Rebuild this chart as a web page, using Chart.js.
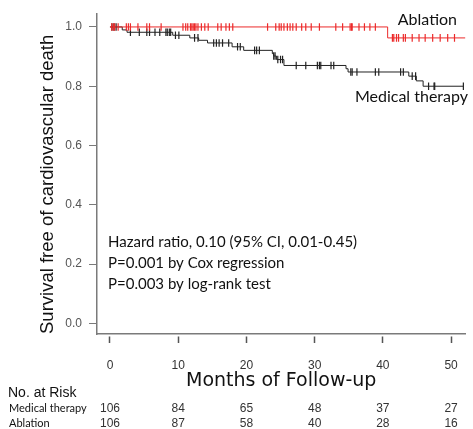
<!DOCTYPE html>
<html>
<head>
<meta charset="utf-8">
<script src="https://cdn.jsdelivr.net/npm/chart.js@4.4.0/dist/chart.umd.min.js"></script>
<style>
  html, body { margin: 0; padding: 0; background: #fff; }
  #wrap { width: 473px; height: 429px; }
</style>
</head>
<body>
<div id="wrap"><canvas id="km"></canvas></div>
<script>
// values
const xTicks = [0, 10, 20, 30, 40, 50];
const yTicks = [0, 0.2, 0.4, 0.6, 0.8, 1.0];

const medTimes = [0, 1.8, 2.5, 9.2, 11.7, 13.0, 14.3, 17.9, 19.6, 23.8, 24.0, 24.4, 25.5, 34.6, 34.9, 43.8, 44.9, 45.9];
const medSurv = [1.0, 0.990, 0.982, 0.972, 0.963, 0.955, 0.946, 0.933, 0.921, 0.910, 0.902, 0.890, 0.870, 0.859, 0.848, 0.834, 0.818, 0.800];
const medEnd = 51.8;
const medCensor = [0.3, 0.6, 0.9, 3.0, 4.3, 5.4, 5.8, 6.6, 7.3, 8.2, 8.4, 8.7, 8.9, 9.6, 10.1, 12.4, 12.9, 15.2, 15.6, 16.0, 16.5,
  17.4, 18.7, 19.1, 21.2, 21.5, 21.9, 24.0, 24.2, 24.6, 25.0, 25.3, 27.3, 28.7, 30.4, 30.7, 30.9, 32.4, 32.8, 35.3, 35.5, 36.2,
  38.9, 39.4, 42.6, 43.0, 44.3, 44.8, 46.7, 47.5, 47.6, 51.8];

const ablTimes = [0, 40.7];
const ablSurv = [1.0, 0.963];
const ablEnd = 52.1;
const ablCensor = [0.25, 0.5, 0.7, 1.2, 2.4, 2.7, 3.0, 4.1, 5.4, 5.8, 7.5, 10.7, 11.1, 11.4, 11.8, 12.0, 12.2, 12.4, 12.6, 12.9,
  13.4, 13.9, 14.4, 15.8, 16.3, 17.0, 17.5, 18.0, 23.1, 24.3, 24.8, 25.1, 25.5, 26.0, 26.4, 26.8, 27.3, 28.1, 28.7, 29.5, 30.7,
  33.1, 34.1, 35.2, 35.4, 35.5, 36.5, 37.3, 38.1, 38.9, 41.4, 41.6, 42.0, 42.3, 43.0, 43.3, 44.3, 45.3, 46.2, 47.3, 48.4, 49.5, 50.5];

const riskTimes = [0, 10, 20, 30, 40, 50];
const medRisk = [106, 84, 65, 48, 37, 27];
const ablRisk = [106, 87, 58, 40, 28, 16];

const statLines = ['Hazard ratio, 0.10 (95% CI, 0.01-0.45)', 'P=0.001 by Cox regression', 'P=0.003 by log-rank test'];

const RED = '#ec2a2a';
const BLACK = '#222222';
const AXIS = '#7a7a7a';

function stepPoints(times, surv, end) {
    const pts = times.map((t, i) => ({ x: t, y: surv[i] }));
    pts.push({ x: end, y: surv[surv.length - 1] });
    return pts;
}

function survAt(times, surv, t) {
    let s = surv[0];
    for (let i = 0; i < times.length; i++) {
        if (times[i] <= t) s = surv[i];
    }
    return s;
}

function censorPoints(times, surv, cens) {
    return cens.map(t => ({ x: t, y: survAt(times, surv, t) }));
}

const curve = (label, data, color) => ({
    label: label,
    data: data,
    borderColor: color,
    borderWidth: 1,
    stepped: 'before',
    pointRadius: 0,
    fill: false
});

const marks = (label, data, color) => ({
    label: label,
    data: data,
    showLine: false,
    pointStyle: 'line',
    rotation: 90,
    pointRadius: 3.8,
    pointBorderWidth: 1.2,
    pointBorderColor: color,
    pointBackgroundColor: color
});

const extras = {
    id: 'extras',
    afterDraw(chart) {
        const { ctx } = chart;
        const x = chart.scales.x;
        ctx.save();

        // statistics
        ctx.fillStyle = '#111';
        ctx.font = '15px Lato';
        ctx.textAlign = 'left';
        ctx.textBaseline = 'middle';
        statLines.forEach((s, i) => ctx.fillText(s, 108, 242 + i * 21));

        // curve labels
        ctx.font = '16px Lato';
        ctx.textAlign = 'right';
        ctx.fillText(chart.data.datasets[1].label, 457, 20);
        ctx.fillText(chart.data.datasets[3].label, 468, 97);

        // number at risk
        ctx.textAlign = 'left';
        ctx.textBaseline = 'alphabetic';
        ctx.font = '14px "Liberation Sans", Arial';
        ctx.fillText('No. at Risk', 8, 397);
        ctx.font = '11px Lato';
        ctx.fillText('Medical therapy', 9, 412);
        ctx.fillText('Ablation', 9, 427);
        ctx.font = '12px "Liberation Sans", Arial';
        ctx.fillStyle = '#333';
        ctx.textAlign = 'center';
        riskTimes.forEach((t, i) => {
            const px = x.getPixelForValue(t);
            ctx.fillText(String(medRisk[i]), px, 412);
            ctx.fillText(String(ablRisk[i]), px, 427);
        });
        ctx.restore();
    }
};

new Chart(document.getElementById('km'), {
    type: 'line',
    data: {
        datasets: [
            marks('Ablation censored', censorPoints(ablTimes, ablSurv, ablCensor), RED),
            curve('Ablation', stepPoints(ablTimes, ablSurv, ablEnd), RED),
            marks('Medical therapy censored', censorPoints(medTimes, medSurv, medCensor), BLACK),
            curve('Medical therapy', stepPoints(medTimes, medSurv, medEnd), BLACK)
        ]
    },
    options: {
        responsive: true,
        maintainAspectRatio: false,
        animation: false,
        layout: { padding: { left: 0, right: 6, top: 13, bottom: 0 } },
        plugins: {
            legend: { display: false },
            tooltip: { enabled: false }
        },
        scales: {
            x: {
                type: 'linear',
                min: -1.9,
                max: 52.1,
                afterBuildTicks: s => { s.ticks = xTicks.map(v => ({ value: v })); },
                afterFit: s => { s.height = 95; },
                // tick marks start a couple of pixels below the axis line
                grid: {
                    drawOnChartArea: false,
                    drawTicks: true,
                    tickLength: 9,
                    tickColor: '#555',
                    tickWidth: 1.5,
                    tickBorderDash: [0, 2, 8, 20]
                },
                border: { display: true, color: AXIS, width: 1.5 },
                ticks: {
                    padding: 15,
                    color: '#333',
                    font: { family: '"Liberation Sans", Arial', size: 12 },
                    maxRotation: 0
                },
                title: {
                    display: true,
                    text: 'Months of Follow-up',
                    color: '#111',
                    font: { family: '"DejaVu Sans"', size: 19 },
                    padding: { top: 0, bottom: 37 }
                }
            },
            y: {
                type: 'linear',
                min: -0.036,
                max: 1.043,
                afterBuildTicks: s => { s.ticks = yTicks.map(v => ({ value: v })); },
                afterFit: s => { s.width = 97; },
                grid: { drawOnChartArea: false, drawTicks: true, tickLength: 8, color: AXIS, lineWidth: 1 },
                border: { display: true, color: AXIS, width: 1.5 },
                ticks: {
                    padding: 7,
                    color: '#555',
                    font: { family: '"Liberation Sans", Arial', size: 12 },
                    callback: v => v.toFixed(1)
                },
                title: {
                    display: true,
                    text: 'Survival free of cardiovascular death',
                    align: 'start',
                    color: '#111',
                    font: { family: '"Liberation Sans", Arial', size: 18.5 },
                    padding: { top: 37, bottom: 0 }
                }
            }
        }
    },
    plugins: [extras]
});
</script>
</body>
</html>
